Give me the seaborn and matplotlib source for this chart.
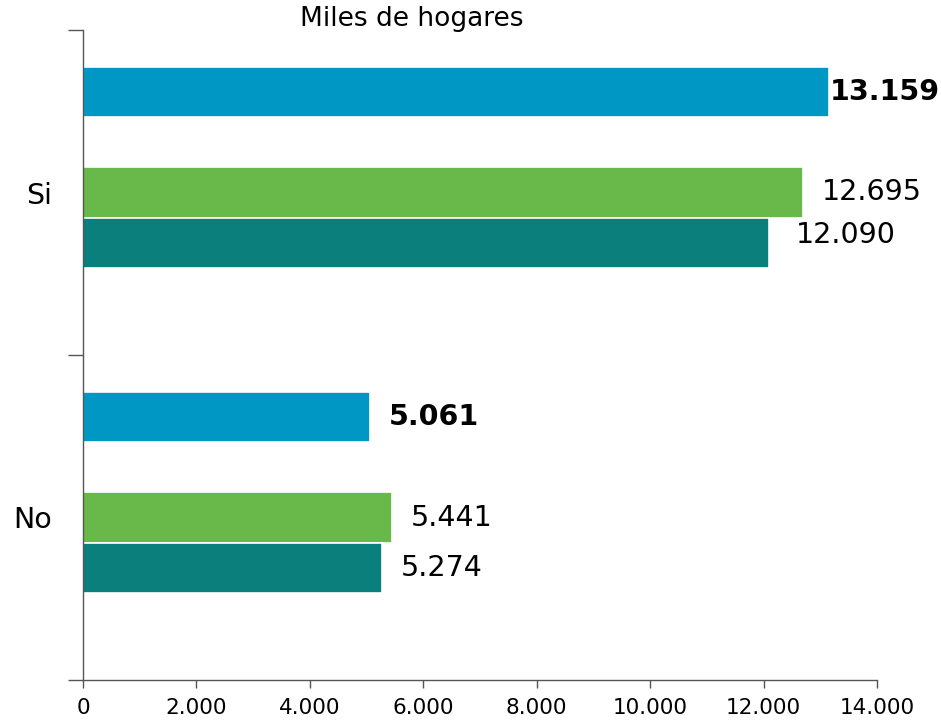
import pandas as pd
import matplotlib
matplotlib.use("Agg")
import matplotlib.pyplot as plt
from matplotlib.ticker import FuncFormatter
import seaborn as sns

# Data (miles de hogares)
categories = ["Si", "No"]
serie_actual = [13159, 5061]     # blue, bold labels
serie_previa = [12695, 5441]     # green
serie_base = [12090, 5274]       # teal

series_names = ["actual", "previa", "base"]
series_values = [serie_actual, serie_previa, serie_base]
colors = {"actual": "#0097c4", "previa": "#69b94a", "base": "#0b7f7b",
          "hueco1": "white", "hueco2": "white"}
# empty levels keep the spacing of the original chart
hue_order = ["actual", "hueco1", "previa", "base", "hueco2"]

x_ticks = [0, 2000, 4000, 6000, 8000, 10000, 12000, 14000]


def miles(v, pos=None):
    """Format number with dot as thousands separator."""
    return f"{int(v):,}".replace(",", ".")


rows = []
for name, vals in zip(series_names, series_values):
    for cat, v in zip(categories, vals):
        rows.append({"categoria": cat, "serie": name, "valor": v})
df = pd.DataFrame(rows)

sns.set_style("ticks")
plt.rcParams["font.family"] = ["DejaVu Sans"]
plt.rcParams["text.color"] = "black"
plt.rcParams["xtick.labelcolor"] = "black"
plt.rcParams["ytick.labelcolor"] = "black"

fig = plt.figure(figsize=(9.41, 7.24), dpi=100)
ax = fig.add_axes([83 / 941, 44 / 724, 794 / 941, 650 / 724])

sns.barplot(data=df, y="categoria", x="valor", hue="serie", hue_order=hue_order,
            order=categories, palette=colors, saturation=1, orient="h",
            width=250 / 324, edgecolor="white", linewidth=1.2, legend=False, ax=ax)

ax.set_xlim(0, 14000)
ax.set_ylim(1.5, -0.5)
ax.set_xticks(x_ticks)
ax.xaxis.set_major_formatter(FuncFormatter(miles))
ax.tick_params(axis="x", labelsize=15.5, length=6, width=1, color="#555555", pad=7)

# category boundaries as ticks, names as minor labels
ax.set_yticks([-0.5, 0.5, 1.5])
ax.set_yticklabels([])
ax.set_yticks([0, 1], minor=True)
ax.set_yticklabels(categories, minor=True)
ax.tick_params(axis="y", which="major", length=11, width=1, color="#555555")
ax.tick_params(axis="y", which="minor", length=0, labelsize=20.5, pad=22)

ax.set_xlabel("")
ax.set_ylabel("")
for side in ["top", "right"]:
    ax.spines[side].set_visible(False)
for side in ["left", "bottom"]:
    ax.spines[side].set_color("#555555")
    ax.spines[side].set_linewidth(1)

# value labels; a couple are nudged as in the original
nudge = {("Si", "actual"): (0, 0), ("Si", "base"): (27, 8)}
for name, vals in zip(series_names, series_values):
    for cat, v in zip(categories, vals):
        patch = [p for p in ax.patches if abs(p.get_width() - v) < 0.5][0]
        yc = patch.get_y() + patch.get_height() / 2
        dx, dy = nudge.get((cat, name), (19, 0))
        ax.annotate(miles(v), xy=(v, yc), xytext=(dx, dy), textcoords="offset pixels",
                    va="center", ha="left", fontsize=20.5, color="black",
                    fontweight="bold" if name == "actual" else "normal",
                    annotation_clip=False)

fig.text(412 / 941, 1 - 19 / 724, "Miles de hogares", ha="center", va="center", fontsize=19)

fig.savefig("out.png", dpi=100)
